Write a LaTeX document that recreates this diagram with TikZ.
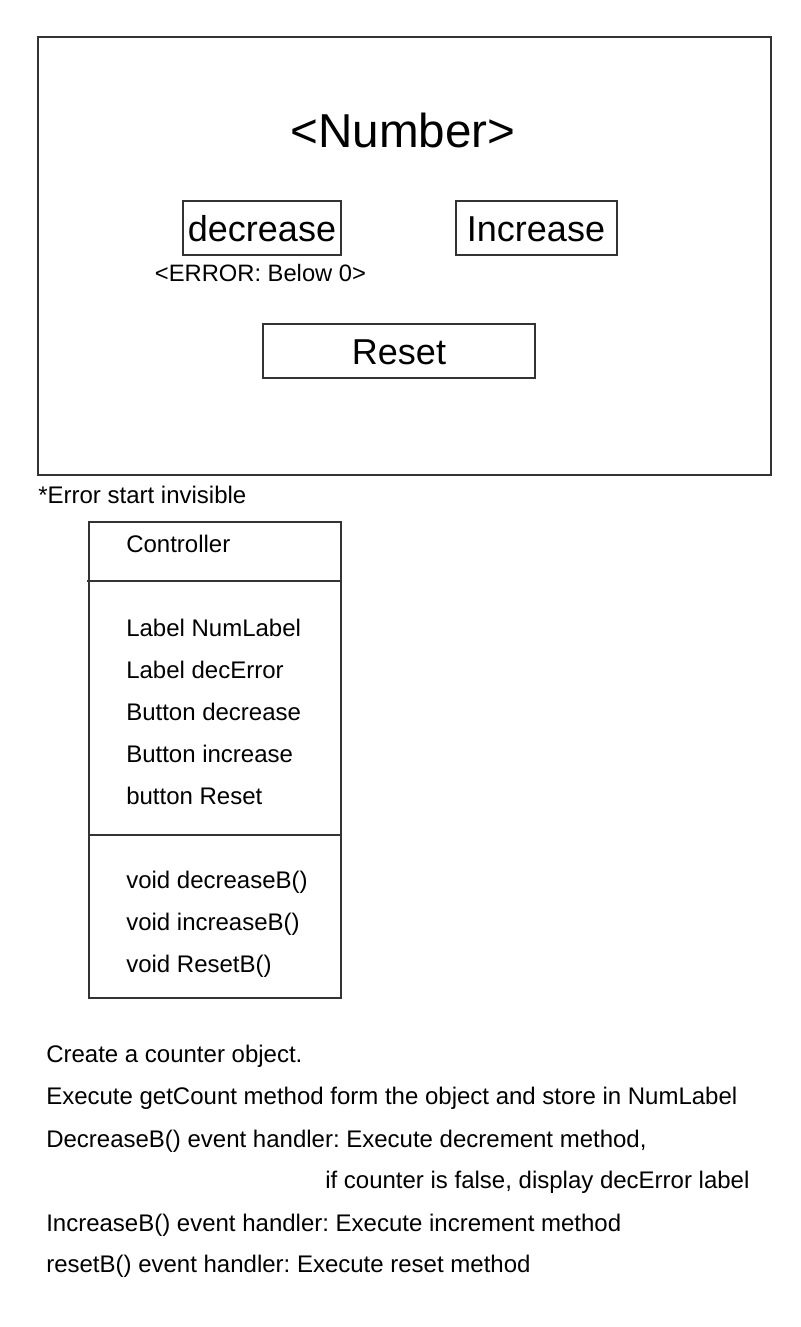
\documentclass[tikz,border=0pt]{standalone}
\usepackage{fontspec}
\setmainfont{Liberation Sans}
\frenchspacing
\tikzset{
	frame/.style={line width=1.5pt, color=black!80},
	note/.style={anchor=base west, inner sep=0pt, font=\fontsize{18}{22}\selectfont},
	btnlabel/.style={anchor=base, inner sep=0pt, font=\fontsize{27}{32}\selectfont},
}

\begin{document}
\begin{tikzpicture}[x=0.75pt, y=-0.75pt]
			%%%%% START %%%%%
			\useasboundingbox (0, 0) rectangle (800, 1327);
			
			% window
			\draw[frame] (38, 37) rectangle (771, 475);
			\node[anchor=base, inner sep=0pt, font=\fontsize{35.7}{42}\selectfont] (numlabel) at (403, 147) {<Number>};
			
			\draw[frame] (183, 201) rectangle (341, 255);
			\node[btnlabel] (decbtn) at (262, 241) {decrease};
			\node[anchor=base, inner sep=0pt, font=\fontsize{17.8}{22}\selectfont] (decerror) at (260.5, 281) {<ERROR: Below 0>};
			
			\draw[frame] (456, 201) rectangle (617, 255);
			\node[btnlabel] (incbtn) at (536, 241) {Increase};
			
			\draw[frame] (263, 324) rectangle (535, 378);
			\node[btnlabel] (resetbtn) at (399, 364) {Reset};
			
			\node[note] (invisnote) at (38, 503.5) {*Error start invisible};
			
			% controller class
			\draw[frame] (89, 522) rectangle (341, 998);
			\draw[frame] (87, 581) -- (341, 581);
			\draw[frame] (89, 835) -- (341, 835);
			
			\node[note] (classname) at (126, 552) {Controller};
			
			\node[note] (fieldA) at (126, 636.5) {Label NumLabel};
			\node[note] (fieldB) at (126, 678.5) {Label decError};
			\node[note] (fieldC) at (126, 720.5) {Button decrease};
			\node[note] (fieldD) at (126, 762.5) {Button increase};
			\node[note] (fieldE) at (126, 804.5) {button Reset};
			
			\node[note] (methodA) at (126, 888.5) {void decreaseB()};
			\node[note] (methodB) at (126, 930.5) {void increaseB()};
			\node[note] (methodC) at (126, 972.5) {void ResetB()};
			
			% steps
			\node[note] (stepA) at (46, 1062.5) {Create a counter object.};
			\node[note] (stepB) at (46, 1104.5) {Execute getCount method form the object and store in NumLabel};
			\node[note] (stepC) at (46, 1147.5) {DecreaseB() event handler: Execute decrement method,};
			\node[note] (stepCb) at (325, 1188.5) {if counter is false, display decError label};
			\node[note] (stepD) at (46, 1231.5) {IncreaseB() event handler: Execute increment method};
			\node[note] (stepE) at (46, 1272.5) {resetB() event handler: Execute reset method};
			
			%%%%% END %%%%%
\end{tikzpicture}
\end{document}
